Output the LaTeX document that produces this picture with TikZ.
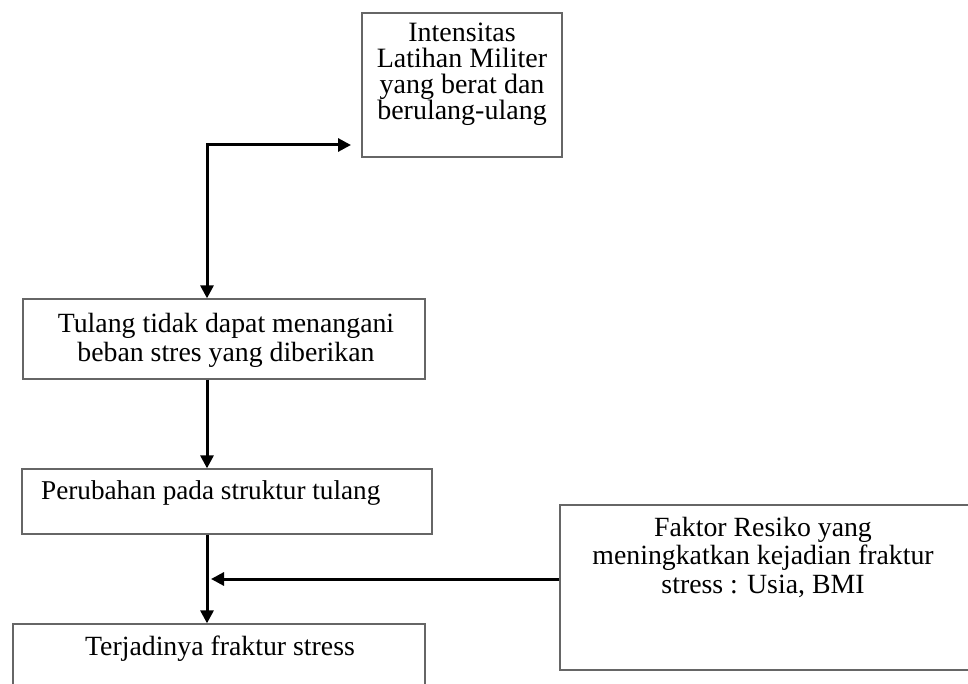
\documentclass[tikz,border=0pt]{standalone}
\usepackage{fontspec}
\setmainfont{Liberation Serif}
\usetikzlibrary{arrows.meta,calc}
\begin{document}
\begin{tikzpicture}[x=1pt,y=-1pt,
  box/.style={draw=black!60,line width=1.3pt,inner sep=0pt,fill=none},
  lbl/.style={inner sep=0pt,align=center,anchor=base,font=\fontsize{27.8}{28.2}\selectfont},
  lblsmall/.style={inner sep=0pt,align=center,anchor=base,font=\fontsize{28}{26}\selectfont},
  arr/.style={line width=3pt,-{Triangle[length=13pt,width=13pt]}},
  arrboth/.style={line width=3pt,{Triangle[length=13pt,width=13pt]}-{Triangle[length=13pt,width=13pt]}}]
\useasboundingbox (0,0) rectangle (968,684);
\clip (0,0) rectangle (968,684);
\fill[white] (0,0) rectangle (968,684);
% boxes
\node[box,minimum width=200pt,minimum height=144pt] (b1) at (462,85) {};
\node[box,minimum width=402pt,minimum height=80pt] (b2) at (224,339) {};
\node[box,minimum width=410pt,minimum height=65pt] (b3) at (227,501.5) {};
\node[box,minimum width=412pt,minimum height=80pt] (b4) at (219,664) {};
\node[box,minimum width=420pt,minimum height=165pt] (b5) at (770,587.5) {};
% texts (base anchor = baseline of the last line)
\node[lblsmall] (t1) at (462,120) {Intensitas\\Latihan Militer\\yang berat dan\\berulang-ulang};
\node[lbl] (t2) at (226,361) {Tulang tidak dapat menangani\\beban stres yang diberikan};
\node[lbl,anchor=base west,font=\fontsize{27.2}{28}\selectfont] (t3) at (41,499) {Perubahan pada struktur tulang};
\node[lbl] (t4) at (220,655) {Terjadinya fraktur stress};
\node[lbl] (t5) at (763,593) {Faktor Resiko yang\\meningkatkan kejadian fraktur\\stress : Usia, BMI};
% connectors
\coordinate (c1) at (207,145);
\coordinate (a1) at (351,145);
\coordinate (m) at (211,579);
\draw[arrboth] (a1) -- (c1) -- (c1 |- b2.north);
\draw[arr] (c1 |- b2.south) -- (c1 |- b3.north);
\draw[arr] (c1 |- b3.south) -- (c1 |- b4.north);
\draw[arr] (m -| b5.west) -- (m);
\end{tikzpicture}
\end{document}
